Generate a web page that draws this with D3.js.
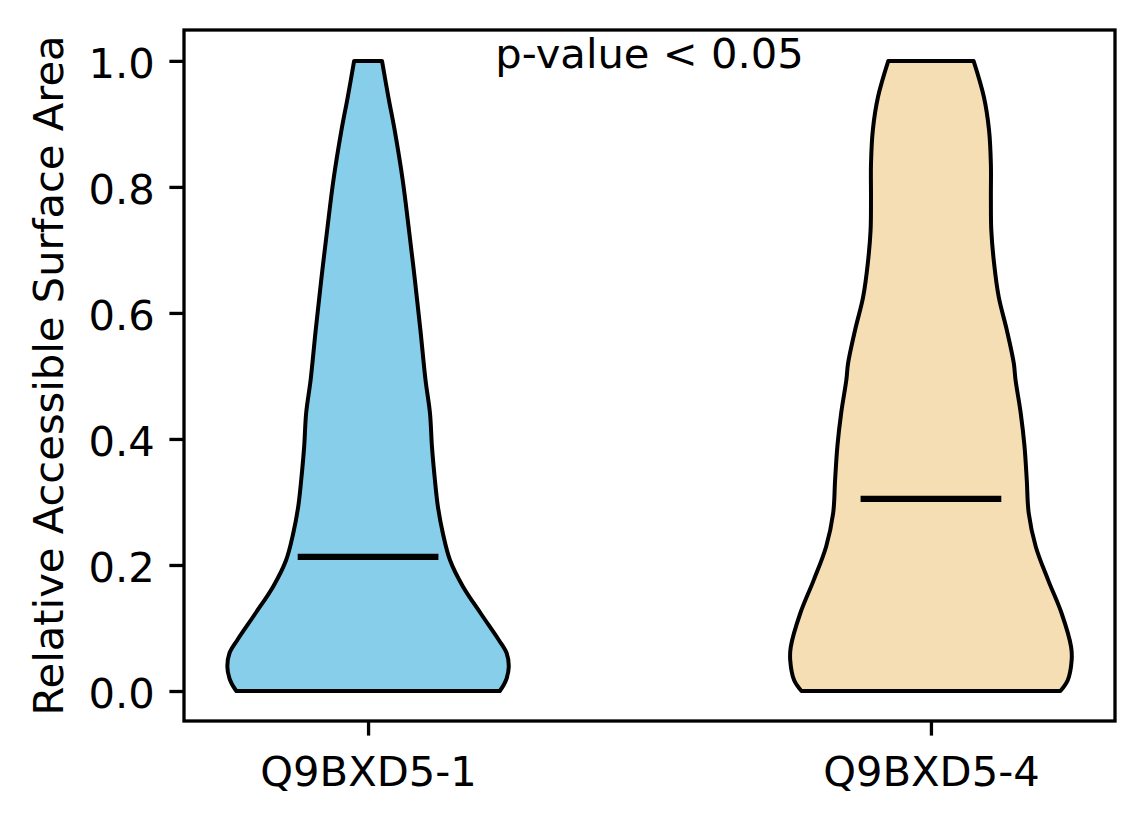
<!DOCTYPE html>
<html>
<head>
<meta charset="utf-8">
<script src="https://cdn.jsdelivr.net/npm/d3@7"></script>
<style>
  body { margin: 0; background: #fff; }
  text { font-family: "DejaVu Sans", sans-serif; }
</style>
</head>
<body>
<svg id="chart"></svg>
<script>
// categories and summary values
var groups = ["Q9BXD5-1", "Q9BXD5-4"];
var colors = ["#87CEEB", "#F5DEB3"];
var medians = [0.213, 0.305];
var yTicks = [0.0, 0.2, 0.4, 0.6, 0.8, 1.0];
var annotation = "p-value < 0.05";

// density profiles (value, relative density)
var density1 = [
    [0.000, 0.936], [0.010, 0.965], [0.020, 0.985], [0.039, 1.000], [0.060, 0.985],
    [0.081, 0.929], [0.123, 0.801], [0.166, 0.674], [0.208, 0.582], [0.250, 0.532],
    [0.293, 0.496], [0.335, 0.475], [0.388, 0.454], [0.441, 0.440], [0.494, 0.408],
    [0.573, 0.372], [0.652, 0.333], [0.731, 0.291], [0.811, 0.246], [0.890, 0.189],
    [0.943, 0.144], [1.000, 0.099]
];
var density2 = [
    [0.000, 0.920], [0.017, 0.972], [0.049, 1.000], [0.070, 0.996], [0.123, 0.929],
    [0.176, 0.833], [0.229, 0.745], [0.282, 0.695], [0.335, 0.681], [0.388, 0.665],
    [0.441, 0.638], [0.494, 0.601], [0.520, 0.589], [0.573, 0.539], [0.625, 0.482],
    [0.678, 0.449], [0.731, 0.429], [0.783, 0.426], [0.836, 0.426], [0.890, 0.413],
    [0.943, 0.376], [1.000, 0.303]
];
var densities = [density1, density2];

var dimensions = {
    width: 1144,
    height: 824,
    margin: { top: 30, bottom: 103, right: 29, left: 184 }
}
var fontSize = 41.67;
var violinWidth = 0.5;

var svg = d3.select("#chart")
            .attr("width", dimensions.width)
            .attr("height", dimensions.height)

var xScale = d3.scaleLinear()
               .domain([0.673, 2.327])
               .range([dimensions.margin.left, dimensions.width - dimensions.margin.right])

var yScale = d3.scaleLinear()
               .domain([-0.0476, 1.049])
               .range([dimensions.height - dimensions.margin.bottom, dimensions.margin.top])

// violins
densities.forEach(function(dens, i) {
    var pos = i + 1;
    var area = d3.area()
                 .x0(d => xScale(pos - d[1] * violinWidth / 2))
                 .x1(d => xScale(pos + d[1] * violinWidth / 2))
                 .y(d => yScale(d[0]))
                 .curve(d3.curveCatmullRom.alpha(0.5));
    svg.append("path")
       .datum(dens)
       .attr("d", area)
       .attr("fill", colors[i])
       .attr("stroke", "black")
       .attr("stroke-width", 4)
       .attr("stroke-linejoin", "round");
});

// median lines
svg.append("g")
   .selectAll("line")
   .data(medians)
   .enter()
   .append("line")
   .attr("x1", (d, i) => xScale(i + 1 - violinWidth / 4))
   .attr("x2", (d, i) => xScale(i + 1 + violinWidth / 4))
   .attr("y1", d => yScale(d))
   .attr("y2", d => yScale(d))
   .attr("stroke", "black")
   .attr("stroke-width", 6.2);

// axes
var xAxisGen = d3.axisBottom(xScale)
                 .tickValues([1, 2])
                 .tickFormat((d, i) => groups[i])
                 .tickSizeInner(14.6)
                 .tickSizeOuter(0)
                 .tickPadding(14.6)
var xAxis = svg.append("g")
               .attr("transform", `translate(0,${dimensions.height - dimensions.margin.bottom})`)
               .call(xAxisGen)
xAxis.select(".domain").remove()
xAxis.selectAll("line").attr("stroke-width", 3.3)
xAxis.selectAll("text")
     .attr("font-size", fontSize)
     .attr("font-family", "DejaVu Sans")
     .attr("fill", "black")
     .attr("dy", "0.86em")

var yAxisGen = d3.axisLeft(yScale)
                 .tickValues(yTicks)
                 .tickFormat(d3.format(".1f"))
                 .tickSizeInner(14.6)
                 .tickSizeOuter(0)
                 .tickPadding(14.6)
var yAxis = svg.append("g")
               .attr("transform", `translate(${dimensions.margin.left},0)`)
               .call(yAxisGen)
yAxis.select(".domain").remove()
yAxis.selectAll("line").attr("stroke-width", 3.3)
yAxis.selectAll("text")
     .attr("font-size", fontSize)
     .attr("font-family", "DejaVu Sans")
     .attr("fill", "black")
     .attr("dy", "0.4em")

// frame
svg.append("rect")
   .attr("x", dimensions.margin.left)
   .attr("y", dimensions.margin.top)
   .attr("width", dimensions.width - dimensions.margin.left - dimensions.margin.right)
   .attr("height", dimensions.height - dimensions.margin.top - dimensions.margin.bottom)
   .attr("fill", "none")
   .attr("stroke", "black")
   .attr("stroke-width", 3.3)

// y label
svg.append("text")
   .attr("transform", `translate(63,${(dimensions.margin.top + dimensions.height - dimensions.margin.bottom) / 2}) rotate(-90)`)
   .attr("text-anchor", "middle")
   .attr("font-size", fontSize)
   .text("Relative Accessible Surface Area")

// annotation
svg.append("text")
   .attr("x", xScale(1.5))
   .attr("y", yScale(1.0) + 7)
   .attr("text-anchor", "middle")
   .attr("font-size", fontSize)
   .text(annotation)
</script>
</body>
</html>
